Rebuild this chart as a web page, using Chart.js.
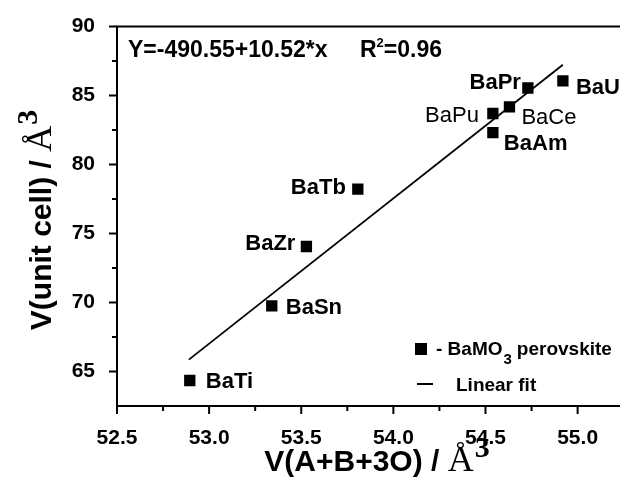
<!DOCTYPE html>
<html><head><meta charset="utf-8">
<script src="https://cdn.jsdelivr.net/npm/chart.js@4.4.0/dist/chart.umd.min.js"></script>
<style>html,body{margin:0;padding:0;background:#fff}#wrap{width:628px;height:481px;position:relative}</style>
</head><body><div id="wrap"><canvas id="c" width="628" height="481"></canvas></div>
<script>
// ---- data ----
const compounds = ['BaTi','BaSn','BaZr','BaTb','BaPu','BaAm','BaCe','BaPr','BaU'];
const volumeABO = [52.895, 53.34, 53.528, 53.807, 54.54, 54.54, 54.63, 54.73, 54.92];
const volumeCell = [64.35, 69.76, 74.06, 78.22, 83.70, 82.31, 84.18, 85.55, 86.06];
const fitX = [52.89, 54.92];
const fitY = [65.86, 87.24];
const xTicks = [52.5, 53.0, 53.5, 54.0, 54.5, 55.0];
const yTicks = [65, 70, 75, 80, 85, 90];
const xMinorTicks = [52.75, 53.25, 53.75, 54.25, 54.75];
const yMinorTicks = [67.5, 72.5, 77.5, 82.5, 87.5];
const equationText = 'Y=-490.55+10.52*x';
const r2Value = '=0.96';

// ---- label styling (offsets from marker centre, px) ----
const labelStyle = {
  BaTi:{dx:16,dy:8,align:'left',bold:true},
  BaSn:{dx:14,dy:8,align:'left',bold:true},
  BaZr:{dx:-11,dy:3,align:'right',bold:true},
  BaTb:{dx:-12,dy:5,align:'right',bold:true},
  BaPu:{dx:-14,dy:8,align:'right',bold:false},
  BaAm:{dx:11,dy:17,align:'left',bold:true},
  BaCe:{dx:12,dy:17,align:'left',bold:false},
  BaPr:{dx:-7,dy:1,align:'right',bold:true},
  BaU:{dx:13,dy:13,align:'left',bold:true}
};

const SANS = '"Liberation Sans", Arial, sans-serif';
const SERIF = '"Liberation Serif", "Times New Roman", serif';

const pts = volumeABO.map((x,i)=>({x:x,y:volumeCell[i]}));
const fitPts = fitX.map((x,i)=>({x:x,y:fitY[i]}));

const decor = {
  id:'decor',
  afterDraw(chart){
    const ctx = chart.ctx, xs = chart.scales.x, ys = chart.scales.y, a = chart.chartArea;
    ctx.save();
    ctx.strokeStyle = '#000'; ctx.fillStyle = '#000';
    ctx.lineWidth = 2; ctx.lineCap = 'butt';
    // axes
    ctx.beginPath();
    ctx.moveTo(a.left, a.top - 1); ctx.lineTo(a.left, a.bottom + 1);
    ctx.moveTo(a.left - 1, a.top); ctx.lineTo(a.right, a.top);
    ctx.moveTo(a.left - 1, a.bottom); ctx.lineTo(a.right, a.bottom);
    ctx.stroke();
    // ticks
    ctx.beginPath();
    yTicks.forEach(v=>{const p=ys.getPixelForValue(v); ctx.moveTo(a.left-8,p); ctx.lineTo(a.left,p);});
    yMinorTicks.forEach(v=>{const p=ys.getPixelForValue(v); ctx.moveTo(a.left-5,p); ctx.lineTo(a.left,p);});
    xTicks.forEach(v=>{const p=xs.getPixelForValue(v); ctx.moveTo(p,a.bottom); ctx.lineTo(p,a.bottom+8);});
    xMinorTicks.forEach(v=>{const p=xs.getPixelForValue(v); ctx.moveTo(p,a.bottom); ctx.lineTo(p,a.bottom+5);});
    ctx.stroke();

    // point labels
    ctx.textBaseline = 'alphabetic';
    compounds.forEach((name,i)=>{
      const s = labelStyle[name];
      const px = xs.getPixelForValue(volumeABO[i]), py = ys.getPixelForValue(volumeCell[i]);
      ctx.font = (s.bold?'bold ':'') + '22px ' + SANS;
      ctx.textAlign = s.align;
      ctx.fillText(name, px + s.dx, py + s.dy);
    });

    // equation
    ctx.textAlign = 'left';
    ctx.font = 'bold 23px ' + SANS;
    ctx.fillText(equationText, 128, 57);
    let rx = 360;
    ctx.fillText('R', rx, 57); rx += ctx.measureText('R').width;
    ctx.font = 'bold 13px ' + SANS;
    ctx.fillText('2', rx, 47); rx += ctx.measureText('2').width;
    ctx.font = 'bold 23px ' + SANS;
    ctx.fillText(r2Value, rx, 57);

    // legend
    ctx.fillRect(415, 343, 12, 12);
    ctx.beginPath(); ctx.moveTo(417, 384); ctx.lineTo(433, 384); ctx.stroke();
    ctx.font = 'bold 19px ' + SANS;
    let lx = 436;
    ctx.fillText('- BaMO', lx, 355); lx += ctx.measureText('- BaMO').width;
    ctx.font = 'bold 15px ' + SANS;
    ctx.fillText('3', lx + 1, 364); lx += ctx.measureText('3').width + 6;
    ctx.font = 'bold 19px ' + SANS;
    ctx.fillText('perovskite', lx, 355);
    ctx.fillText('Linear fit', 456, 391);

    // axis titles
    const drawTitle = (main) => {
      let w = 0;
      ctx.font = 'bold 30px ' + SANS;
      ctx.fillText(main, w, 0); w += ctx.measureText(main).width;
      ctx.font = '36px ' + SERIF;
      ctx.fillText('\u00C5', w, 0); w += ctx.measureText('\u00C5').width + 1;
      ctx.font = 'bold 30px ' + SERIF;
      ctx.fillText('3', w, -14); w += ctx.measureText('3').width;
      return w;
    };
    const measureTitle = (main) => {
      ctx.font = 'bold 30px ' + SANS; let w = ctx.measureText(main).width;
      ctx.font = '36px ' + SERIF; w += ctx.measureText('\u00C5').width + 1;
      ctx.font = 'bold 30px ' + SERIF; w += ctx.measureText('3').width;
      return w;
    };
    // x title
    const xMain = 'V(A+B+3O) / ';
    const xw = measureTitle(xMain);
    ctx.save(); ctx.translate(377 - xw/2, 471); drawTitle(xMain); ctx.restore();
    // y title
    const yMain = 'V(unit cell) / ';
    const yw = measureTitle(yMain);
    ctx.save(); ctx.translate(51, 220 + yw/2); ctx.rotate(-Math.PI/2); drawTitle(yMain); ctx.restore();
    ctx.restore();
  }
};

new Chart(document.getElementById('c'), {
  type:'scatter',
  data:{datasets:[
    {data:pts, pointStyle:'rect', pointRadius:8, pointHoverRadius:8, backgroundColor:'#000', borderColor:'#000', borderWidth:0, showLine:false},
    {data:fitPts, showLine:true, pointRadius:0, borderColor:'#000', borderWidth:1.8, fill:false}
  ]},
  options:{
    responsive:false, animation:false, devicePixelRatio:1,
    layout:{padding:{left:0,right:0,top:24,bottom:0}},
    plugins:{legend:{display:false}, tooltip:{enabled:false}},
    scales:{
      x:{type:'linear', min:52.5, max:55.23,
         afterBuildTicks(s){ s.ticks = xTicks.map(v=>({value:v})); },
         afterFit(s){ s.height = 75; },
         grid:{display:false}, border:{display:false},
         ticks:{padding:12, color:'#000', font:{family:SANS, size:21, weight:'bold'}, maxRotation:0,
                callback:(v)=>Number(v).toFixed(1)}},
      y:{type:'linear', min:62.5, max:90,
         afterBuildTicks(s){ s.ticks = yTicks.map(v=>({value:v})); },
         afterFit(s){ s.width = 117; },
         grid:{display:false}, border:{display:false},
         ticks:{padding:14, color:'#000', font:{family:SANS, size:21, weight:'bold'},
                callback:(v)=>String(v)}}
    }
  },
  plugins:[decor]
});
</script></body></html>
